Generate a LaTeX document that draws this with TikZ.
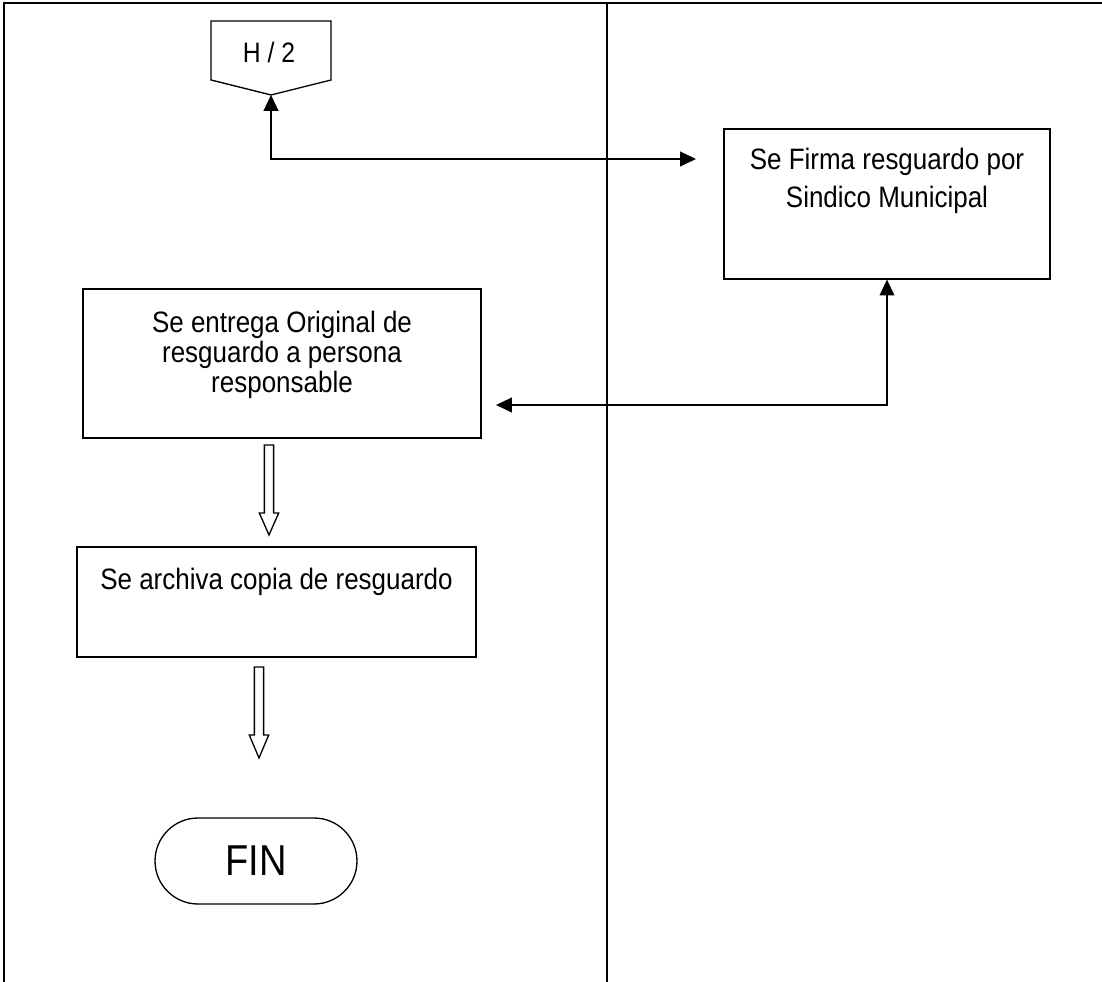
\documentclass[tikz,border=0pt]{standalone}
\usepackage{fontspec}
\setmainfont{Liberation Sans}[FakeStretch=0.88]
\usetikzlibrary{arrows.meta,positioning,shapes.misc}
\tikzset{
    caja/.style={draw,line width=0.75pt,inner sep=0pt},
    texto/.style={inner sep=0pt,align=center,font=\fontsize{16.8}{17.2}\selectfont},
    enlace/.style={line width=0.75pt,{Triangle[length=9pt,width=8.4pt]}-{Triangle[length=9pt,width=8.4pt]}},
    carril/.style={line width=1.2pt}
}

\begin{document}
\begin{tikzpicture}[x=0.02cm,y=-0.02cm]
        \useasboundingbox (0,0) rectangle (1102,982);
        \draw [carril] (4,982) -- (4,3) -- (1102,3);
        \draw [carril] (607,3) -- (607,982);
        \draw [caja] (211,21) -- (331,21) -- (331,80) -- (271,95) -- (211,80) -- cycle;
        \coordinate (h2tip) at (271,95);
        \node [font=\fontsize{16}{19}\selectfont,anchor=base] (h2) at (269,63) {H / 2};
        \node [caja,minimum width=6.52cm,minimum height=3cm] (firma) at (887,204) {};
        \node [texto,font=\fontsize{16.8}{21.4}\selectfont,below=0.39cm of firma.north] (firmatxt)
            {Se Firma resguardo por\\Sindico Municipal};
        \node [caja,minimum width=7.96cm,minimum height=2.98cm] (entrega) at (282,363.5) {};
        \node [texto,below=0.44cm of entrega.north] (entregatxt)
            {Se entrega Original de\\resguardo a persona\\responsable};
        \node [caja,minimum width=7.98cm,minimum height=2.2cm] (archiva) at (276.5,602) {};
        \node [texto,below=0.43cm of archiva.north] (archivatxt) {Se archiva copia de resguardo};
        \node [caja,rounded rectangle,minimum width=4.04cm,minimum height=1.72cm,
            font=\fontsize{24.6}{28}\selectfont] (fin) at (256,861) {FIN};
        \coordinate (firmain) at (696,159);
        \coordinate (entregain) at (496,405);
        \draw [enlace] (h2tip) |- (firmain);
        \draw [enlace] (firma.south) |- (entregain);
        \foreach \x/\ya/\yb/\yc in {269/445/513/535,259/667/735/758} {
            \draw [caja] ({\x-4.6},\ya) -- ({\x+4.6},\ya) -- ({\x+4.6},\yb) -- ({\x+9.7},\yb)
                -- (\x,\yc) -- ({\x-9.7},\yb) -- ({\x-4.6},\yb) -- cycle;
        }
    \end{tikzpicture}
\end{document}
